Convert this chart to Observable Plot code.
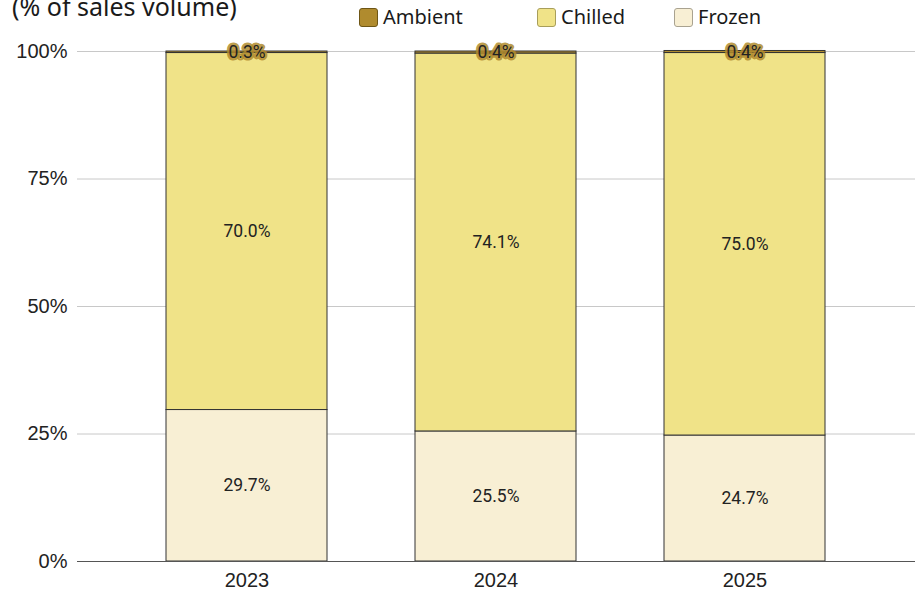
<!DOCTYPE html>
<html>
<head>
<meta charset="utf-8">
<script src="https://cdn.jsdelivr.net/npm/d3@7"></script>
<script src="https://cdn.jsdelivr.net/npm/@observablehq/plot@0.6"></script>
<style>
  html, body { margin: 0; padding: 0; background: #fff; }
  #header { position: relative; height: 40px; width: 920px; overflow: hidden; }
  #title { position: absolute; left: 12px; top: -9px; font-family: "Noto Sans", sans-serif; font-size: 25px; line-height: 30px; color: #1a1a1a; white-space: nowrap; }
  .item { position: absolute; top: 5px; display: flex; align-items: center; font-family: "Noto Sans", sans-serif; font-size: 20px; line-height: 24px; color: #1a1a1a; }
  .sw { width: 19px; height: 19px; border-radius: 3px; margin-right: 5px; box-sizing: border-box; }
</style>
</head>
<body>
<div id="header">
  <div id="title">(% of sales volume)</div>
</div>
<div id="chart"></div>
<script>
const years = ["2023", "2024", "2025"];
const categories = ["Frozen", "Chilled", "Ambient"];
const frozen = [29.7, 25.5, 24.7];
const chilled = [70.0, 74.1, 75.0];
const ambient = [0.3, 0.4, 0.4];
const colors = ["#f8efd4", "#f0e388", "#b08b2e"];
const borders = ["#a9a290", "#a89e5a", "#6e5616"];
const yTicks = [0, 25, 50, 75, 100];

const legendOrder = ["Ambient", "Chilled", "Frozen"];
const legendX = [359, 537, 674];
const header = document.getElementById("header");
legendOrder.forEach((c, i) => {
  const k = categories.indexOf(c);
  const it = document.createElement("div");
  it.className = "item";
  it.style.left = legendX[i] + "px";
  const sw = document.createElement("div");
  sw.className = "sw";
  sw.style.background = colors[k];
  sw.style.border = "1px solid " + borders[k];
  it.appendChild(sw);
  const t = document.createElement("span");
  t.textContent = c;
  it.appendChild(t);
  header.appendChild(it);
});

const data = [];
years.forEach((y, i) => {
  data.push({year: y, cat: "Frozen", value: frozen[i]});
  data.push({year: y, cat: "Chilled", value: chilled[i]});
  data.push({year: y, cat: "Ambient", value: ambient[i]});
});

const stackOpts = {x: "year", y: "value", z: "cat", order: categories};
const fmt = d => d.value.toFixed(1) + "%";

const chart = Plot.plot({
  width: 920,
  height: 556,
  marginTop: 11,
  marginBottom: 35,
  marginLeft: 77,
  marginRight: 5,
  style: {fontFamily: "'Liberation Sans', Arial, sans-serif", fontSize: "20px", color: "#222", background: "#fff"},
  x: {domain: years, padding: 0.352, label: null, tickSize: 0, tickPadding: 11},
  y: {domain: [0, 100], ticks: yTicks, tickFormat: d => d + "%", label: null, tickSize: 0, tickPadding: 10},
  color: {domain: categories, range: colors},
  marks: [
    Plot.gridY(yTicks, {stroke: "#c8c8c8", strokeOpacity: 1}),
    Plot.barY(data, Plot.stackY({...stackOpts, fill: "cat", stroke: "#333", strokeWidth: 1})),
    Plot.ruleY([0], {stroke: "#555", strokeWidth: 1.2}),
    Plot.text(data, Plot.stackY({...stackOpts, text: d => d.cat === "Ambient" ? "" : fmt(d), fill: "#222", fontSize: 17.5, fontFamily: "Roboto, sans-serif"})),
    Plot.text(data, Plot.stackY({...stackOpts, text: d => d.cat === "Ambient" ? fmt(d) : "", fill: "#222", stroke: "#b08b2e", strokeWidth: 5, strokeOpacity: 0.85, fontSize: 17.5, fontFamily: "Roboto, sans-serif"}))
  ]
});
document.getElementById("chart").appendChild(chart);
</script>
</body>
</html>
